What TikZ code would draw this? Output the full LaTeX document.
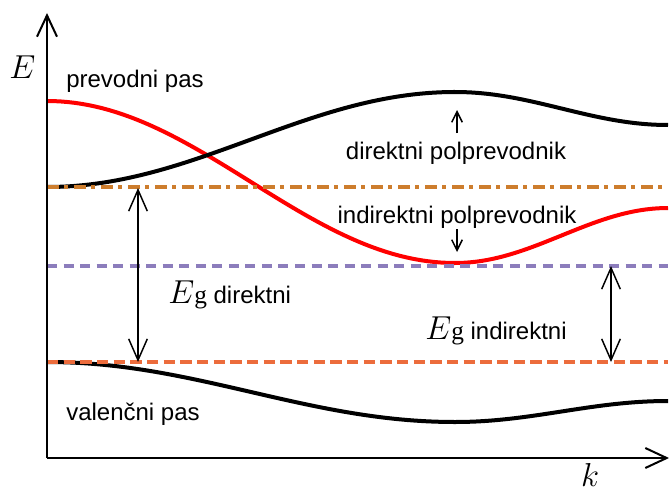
\documentclass[tikz,border=0pt]{standalone}
\usepackage[no-math]{fontspec}
\setmainfont{Liberation Sans}
\newfontfamily\cbmserif{Liberation Serif}
\usetikzlibrary{arrows.meta}
\definecolor{cbmorange}{RGB}{205,125,45}
\definecolor{cbmpurple}{RGB}{140,125,188}
\definecolor{cbmredor}{RGB}{236,108,60}
\newcommand{\cbmEg}{{\fontsize{28}{30}\selectfont$E$}{\cbmserif\fontsize{19}{21}\selectfont g}}
\tikzset{
  axisline/.style={line width=1.5pt,-{Straight Barb[length=16pt,width=15pt]}},
  bandline/.style={line width=3pt},
  levelline/.style={line width=2.5pt},
  gaparrow/.style={line width=1.1pt,{Straight Barb[length=16pt,width=14pt]}-{Straight Barb[length=16pt,width=14pt]}},
  smallarrow/.style={line width=1.1pt,-{Straight Barb[length=8pt,width=8pt]}},
  lbl/.style={font=\fontsize{18}{20}\selectfont, inner sep=0pt},
  mathlbl/.style={font=\fontsize{26}{28}\selectfont, inner sep=0pt}
}
\begin{document}
\begin{tikzpicture}[x=0.75pt,y=-0.75pt]
\useasboundingbox (0,0) rectangle (670,492);
% coordinates
\coordinate (O) at (47,458);
\coordinate (Etop) at (47,13);
\coordinate (Kend) at (669,458);
\coordinate (cL) at (47,187); \coordinate (cR) at (668,187);
\coordinate (iL) at (47,266); \coordinate (iR) at (668,266);
\coordinate (vL) at (47,362); \coordinate (vR) at (668,362);
\coordinate (dTop) at (138,188); \coordinate (dBot) at (138,362);
\coordinate (nTop) at (611,266); \coordinate (nBot) at (611,362);
\coordinate (uA) at (457,133); \coordinate (uB) at (457,110);
\coordinate (wA) at (457,229); \coordinate (wB) at (457,252);
% curves
\draw[bandline,red] plot[domain=47:455,samples=60] (\x,{182-81*cos(0.441176*(\x-47))})
  -- plot[domain=455:668,samples=40] (\x,{235.5+27.5*cos(0.84507*(\x-455))});
\draw[bandline,black] plot[domain=47:455,samples=60] (\x,{139.5+47.5*cos(0.441176*(\x-47))})
  -- plot[domain=455:668,samples=40] (\x,{108.5-16.5*cos(0.84507*(\x-455))});
\draw[bandline,black] plot[domain=47:455,samples=60] (\x,{392-30*cos(0.441176*(\x-47))})
  -- plot[domain=455:668,samples=40] (\x,{411.5+10.5*cos(0.84507*(\x-455))});
% levels
\draw[levelline,cbmorange,dash pattern=on 9pt off 3.75pt on 3pt off 4.5pt] (cL) -- (cR);
\draw[levelline,cbmpurple,dash pattern=on 7.5pt off 4.9pt] (iL) -- (iR);
\draw[levelline,cbmredor,dash pattern=on 8.5pt off 4pt] (vL) -- (vR);
% axes
\draw[axisline] (O) -- (Etop);
\draw[axisline] (O) -- (Kend);
% arrows
\draw[gaparrow] (dTop) -- (dBot);
\draw[gaparrow] (nTop) -- (nBot);
\draw[smallarrow] (uA) -- (uB);
\draw[smallarrow] (wA) -- (wB);
% labels
\node[mathlbl,anchor=base west] (lE) at (9,79) {$E$};
\node[mathlbl,anchor=base] (lk) at (590,486) {$k$};
\node[lbl,anchor=base west] (lpp) at (66,88) {prevodni pas};
\node[lbl,anchor=base west] (lvp) at (66,420) {valenčni pas};
\node[lbl,anchor=base] (ldp) at (456,159) {direktni polprevodnik};
\node[lbl,anchor=base] (lip) at (457,223) {indirektni polprevodnik};
\node[anchor=base west,inner sep=0pt] (lgd) at (168,303) {\cbmEg{\fontsize{18}{20}\selectfont\ direktni}};
\node[anchor=base west,inner sep=0pt] (lgi) at (425,339) {\cbmEg{\fontsize{18}{20}\selectfont\ indirektni}};
\end{tikzpicture}
\end{document}
